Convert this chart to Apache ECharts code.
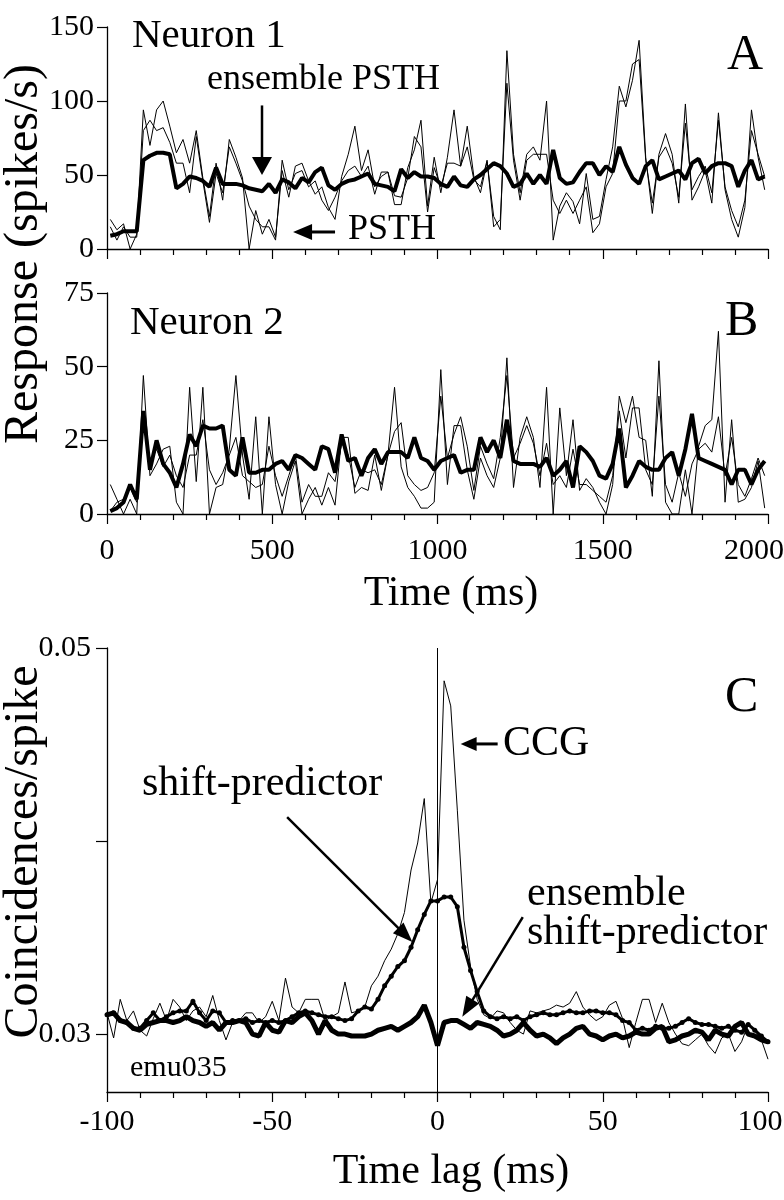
<!DOCTYPE html>
<html><head><meta charset="utf-8">
<script src="https://cdn.jsdelivr.net/npm/echarts@6/dist/echarts.min.js"></script>
<style>html,body{margin:0;padding:0;background:#fff}#c{width:784px;height:1200px}</style>
</head><body><div id="c"></div>
<script>
// ---------- Panels A & B : PSTHs, 20-ms bins (bin centres in ms) ----------
const binTimes = Array.from({length: 100}, (_, i) => 10 + 20 * i);
const n1Psth1 = [20,13,17,0,10,94,70,94,100,83, 65,74,58,80,48,22,58,33,74,62, 48,0,26,10,20,8,53,35,56,58, 46,37,42,28,20,49,64,83,53,67, 42,49,52,30,
  30,55,67,87,29,62,38,62,94,56, 83,49,38,59,22,13,134,64,38,64, 69,60,100,6,29,38,32,17,51,20, 22,47,69,110,96,114,141,62,24,64, 78,64,31,98,33,42,53,31,92,40, 20,8,28,94,62,40];
const n1Psth2 = [15,6,15,8,8,80,87,80,82,72, 58,58,38,76,46,18,51,38,69,58, 46,29,20,15,15,6,60,40,51,53, 42,46,33,26,35,46,53,56,49,56, 37,52,52,36,
  35,48,76,69,25,55,42,58,58,56, 69,47,42,60,15,20,112,60,33,60, 64,64,64,33,24,33,24,33,42,11, 17,42,51,100,100,125,128,60,31,62, 69,58,35,85,40,49,56,38,87,42, 26,15,33,80,64,49];
const n1Ensemble = [9,10,12,12,12,60,63,65,65,64, 41,44,49,48,46,42,55,44,44,44, 43,41,40,39,44,38,47,45,41,48, 45,52,55,43,40,44,46,47,49,51, 44,43,42,39,
  54,48,52,49,49,48,44,42,49,43, 42,47,50,54,58,56,51,42,44,51, 44,50,44,67,48,44,45,52,58,58, 50,56,52,69,57,48,44,56,60,47, 49,51,53,47,58,61,51,56,58,58, 56,42,53,60,47,49];

const n2Psth1 = [10,5,0,5,0,47,13,17,22,23, 4,0,43,11,43,0,9,10,22,47, 20,5,33,0,33,10,0,11,18,0, 5,9,3,9,3,26,26,7,9,8, 20,8,20,43,
  16,9,6,2,2,4,49,10,30,30, 15,5,19,13,9,19,53,9,26,33, 26,9,43,0,36,13,32,8,12,9, 4,0,10,40,31,40,26,25,6,52, 4,0,0,15,0,23,30,32,62,4, 32,4,5,9,18,2];
const n2Psth2 = [1,4,5,9,4,32,17,22,16,20, 13,9,20,20,32,15,10,14,20,26, 13,11,9,10,23,13,6,13,20,4, 10,6,6,14,11,24,20,9,15,14, 15,10,20,28,
  31,13,10,8,9,14,40,19,27,33, 23,8,23,17,12,26,47,19,24,30, 24,13,24,10,13,9,22,10,10,8, 6,4,13,35,19,36,36,15,10,40, 10,4,14,6,17,22,24,21,33,13, 26,10,6,12,19,13];
const n2Ensemble = [1,2,4,10,5,35,15,25,17,14, 9,17,27,23,30,29,29,30,15,13, 26,14,14,15,15,17,18,15,20,19, 17,15,23,22,14,27,18,19,13,19, 22,17,21,21,
  21,19,26,19,18,15,18,19,20,14, 15,15,26,21,25,19,32,18,17,17, 17,16,19,13,15,18,9,23,21,18, 13,12,17,29,9,13,18,16,15,15, 19,21,13,22,34,19,18,17,16,15, 10,15,15,10,15,18];

// ---------- Panel C : correlograms, 2-ms lags ----------
const lags = Array.from({length: 101}, (_, k) => -100 + 2 * k);
const ccg = [0.0311,0.0298,0.0318,0.0307,0.0312,0.0302,0.0299,0.0308,0.0316,0.0307,
  0.0318,0.0314,0.0307,0.0312,0.0314,0.0309,0.0320,0.0307,0.0297,0.0306,
  0.0307,0.0311,0.0311,0.0306,0.0309,0.0317,0.0307,0.0329,0.0314,0.0311,
  0.0318,0.0318,0.0318,0.0307,0.0309,0.0311,0.0327,0.0311,0.0312,0.0314,
  0.0325,0.0330,0.0338,0.0344,0.0352,0.0363,0.0385,0.0399,0.0422,0.0368,
  0.0380,0.0483,0.0470,0.0416,0.0359,0.0335,0.0318,0.0310,0.0308,0.0312,
  0.0311,0.0306,0.0302,0.0300,0.0312,0.0311,0.0312,0.0313,0.0315,0.0314,
  0.0316,0.0322,0.0314,0.0310,0.0307,0.0309,0.0315,0.0317,0.0308,0.0293,
  0.0306,0.0318,0.0318,0.0306,0.0316,0.0306,0.0300,0.0295,0.0294,0.0297,
  0.0300,0.0294,0.0290,0.0298,0.0300,0.0291,0.0296,0.0305,0.0302,0.0297,
  0.0287];
const shiftPredictor = [0.0310,0.0311,0.0307,0.0306,0.0303,0.0303,0.0307,0.0311,0.0307,0.0309,
  0.0311,0.0312,0.0312,0.0317,0.0311,0.0307,0.0312,0.0311,0.0306,0.0307,
  0.0307,0.0308,0.0306,0.0307,0.0306,0.0307,0.0306,0.0307,0.0309,0.0311,
  0.0312,0.0311,0.0310,0.0309,0.0309,0.0308,0.0307,0.0308,0.0312,0.0314,
  0.0313,0.0318,0.0325,0.0330,0.0335,0.0338,0.0345,0.0354,0.0362,0.0369,
  0.0369,0.0371,0.0371,0.0366,0.0345,0.0333,0.0322,0.0312,0.0309,0.0308,
  0.0309,0.0308,0.0309,0.0307,0.0309,0.0310,0.0311,0.0310,0.0310,0.0311,
  0.0312,0.0311,0.0311,0.0312,0.0312,0.0311,0.0311,0.0310,0.0307,0.0306,
  0.0302,0.0303,0.0302,0.0304,0.0303,0.0303,0.0304,0.0306,0.0308,0.0306,
  0.0305,0.0305,0.0304,0.0303,0.0304,0.0302,0.0301,0.0305,0.0302,0.0299,
  0.0296];
const ensembleShiftPredictor = [0.0310,0.0311,0.0307,0.0306,0.0303,0.0302,0.0305,0.0306,0.0307,0.0307,
  0.0306,0.0307,0.0309,0.0307,0.0306,0.0304,0.0306,0.0302,0.0306,0.0306,
  0.0307,0.0306,0.0300,0.0299,0.0306,0.0302,0.0301,0.0307,0.0306,0.0309,
  0.0311,0.0307,0.0300,0.0307,0.0302,0.0300,0.0300,0.0299,0.0299,0.0299,
  0.0300,0.0302,0.0303,0.0304,0.0302,0.0304,0.0306,0.0309,0.0315,0.0306,
  0.0294,0.0306,0.0307,0.0307,0.0305,0.0303,0.0306,0.0305,0.0304,0.0302,
  0.0299,0.0300,0.0302,0.0306,0.0302,0.0299,0.0300,0.0298,0.0295,0.0298,
  0.0300,0.0303,0.0304,0.0300,0.0299,0.0297,0.0299,0.0300,0.0298,0.0299,
  0.0301,0.0300,0.0300,0.0303,0.0304,0.0296,0.0297,0.0299,0.0300,0.0302,
  0.0301,0.0297,0.0302,0.0300,0.0299,0.0304,0.0306,0.0300,0.0299,0.0297,
  0.0296];

// annotation arrows (data coordinates: tail -> tip)
const arrowDefs = [
  {grid: 0, from: [469, 97], to: [469, 50], head: 18, hw: 20, w: 2.5},
  {grid: 0, from: [690, 11.5], to: [563, 11.5], head: 19, hw: 16, w: 3},
  {grid: 2, from: [-45.5, 0.04124], to: [-7.6, 0.03477], head: 20, hw: 15, w: 2.5},
  {grid: 2, from: [25.8, 0.03606], to: [7.5, 0.0309], head: 20, hw: 15, w: 2.5},
  {grid: 2, from: [18.2, 0.04503], to: [7.0, 0.04503], head: 16, hw: 14, w: 3}
];

const FONT = '"Liberation Serif", "Times New Roman", serif';
const pairs = (xs, ys) => xs.map((x, i) => [x, ys[i]]);
const LBL = {color: '#000', fontFamily: FONT, fontSize: 30};

function xAx(grid, min, max, interval, showLabel, margin, shiftMax) {
  return {
    gridIndex: grid, type: 'value', min, max, interval,
    axisLine: {show: true, onZero: false, lineStyle: {color: '#000', width: 1.3}},
    axisTick: {show: true, inside: false, length: 10, lineStyle: {color: '#000', width: 1.2}},
    minorTick: {show: true, splitNumber: 5, length: 6, lineStyle: {color: '#000', width: 1.2}},
    splitLine: {show: false}, minorSplitLine: {show: false},
    axisLabel: Object.assign({show: showLabel, margin,
      formatter: v => (v === max ? '{e|' + v + '}' : String(v)),
      rich: {e: Object.assign({padding: [0, shiftMax, 0, 0]}, LBL)}}, LBL)
  };
}
function yAx(grid, min, max, interval, extra) {
  const a = {
    gridIndex: grid, type: 'value', min, max, interval,
    axisLine: {show: true, onZero: false, lineStyle: {color: '#000', width: 1.3}},
    axisTick: {show: true, inside: false, length: 10, lineStyle: {color: '#000', width: 1.2}},
    splitLine: {show: false},
    axisLabel: Object.assign({show: true, margin: 13, verticalAlign: 'middle', padding: [0, 0, 16, 0]}, LBL)
  };
  return Object.assign(a, extra || {});
}
const thin = (xi, yi, data) => ({type: 'line', xAxisIndex: xi, yAxisIndex: yi, data, symbol: 'none',
  lineStyle: {color: '#000', width: 1}, silent: true});
const thick = (xi, yi, data, w) => ({type: 'line', xAxisIndex: xi, yAxisIndex: yi, data, symbol: 'none',
  lineStyle: {color: '#000', width: w}, silent: true});

function txt(id, text, x, y, size, align, rot) {
  return {type: 'text', id, x, y, rotation: rot || 0, silent: true,
    style: {text, font: size + 'px ' + FONT, fill: '#000', align: align || 'left', verticalAlign: 'middle'}};
}

const chart = echarts.init(document.getElementById('c'), null, {renderer: 'canvas'});
chart.setOption({
  animation: false,
  backgroundColor: '#fff',
  grid: [
    {left: 107, top: 27, width: 661, height: 222, outerBoundsMode: 'none', containLabel: false},
    {left: 107, top: 293, width: 661, height: 221, outerBoundsMode: 'none', containLabel: false},
    {left: 107, top: 648, width: 661, height: 444, outerBoundsMode: 'none', containLabel: false}
  ],
  xAxis: [
    xAx(0, 0, 2000, 500, false, 22, 28),
    xAx(1, 0, 2000, 500, true, 22, 28),
    xAx(2, -100, 100, 50, true, 15, 16)
  ],
  yAxis: [
    yAx(0, 0, 150, 50),
    yAx(1, 0, 75, 25),
    yAx(2, 0.027, 0.05, 0.01, {
      axisTick: {show: true, inside: false, length: 11, customValues: [0.03, 0.04, 0.05], lineStyle: {color: '#000', width: 1.2}},
      axisLabel: Object.assign({show: true, margin: 16, verticalAlign: 'middle', padding: [0, 0, 16, 0],
        customValues: [0.03, 0.05], formatter: v => v.toFixed(2)}, LBL)
    })
  ],
  series: [
    thin(0, 0, pairs(binTimes, n1Psth1)),
    thin(0, 0, pairs(binTimes, n1Psth2)),
    thick(0, 0, pairs(binTimes, n1Ensemble), 4),
    thin(1, 1, pairs(binTimes, n2Psth1)),
    thin(1, 1, pairs(binTimes, n2Psth2)),
    thick(1, 1, pairs(binTimes, n2Ensemble), 4),
    Object.assign(thin(2, 2, pairs(lags, ccg)), {
      markLine: {silent: true, symbol: 'none', label: {show: false},
        lineStyle: {color: '#000', width: 1, type: 'solid'}, data: [{xAxis: 0}]}
    }),
    {type: 'line', xAxisIndex: 2, yAxisIndex: 2, data: pairs(lags, shiftPredictor),
      symbol: 'circle', symbolSize: 5, showSymbol: true, itemStyle: {color: '#000'},
      lineStyle: {color: '#000', width: 3}, silent: true},
    thick(2, 2, pairs(lags, ensembleShiftPredictor), 5)
  ],
  graphic: [
    txt('yl1', 'Response (spikes/s)', 24, 254, 48, 'center', Math.PI / 2),
    txt('yl2', 'Coincidences/spike', 24, 852, 48, 'center', Math.PI / 2),
    txt('n1', 'Neuron 1', 132, 36, 41),
    txt('ens', 'ensemble PSTH', 207, 80, 36),
    txt('psth', 'PSTH', 348, 230, 36),
    txt('A', 'A', 727, 56, 50),
    txt('n2', 'Neuron 2', 130, 323, 41),
    txt('B', 'B', 725, 322, 50),
    txt('xl1', 'Time (ms)', 451, 594, 42, 'center'),
    txt('C', 'C', 725, 698, 50),
    txt('sp', 'shift-predictor', 142, 784, 42),
    txt('ccg', 'CCG', 503, 744, 42),
    txt('esp1', 'ensemble', 527, 894, 42),
    txt('esp2', 'shift-predictor', 527, 933, 42),
    txt('emu', 'emu035', 130, 1068, 30),
    txt('xl2', 'Time lag (ms)', 451, 1172, 42, 'center')
  ]
});

// arrows, positioned through the chart's own scales
const arrowEls = [];
arrowDefs.forEach((a, i) => {
  const p0 = chart.convertToPixel({gridIndex: a.grid}, a.from);
  const p1 = chart.convertToPixel({gridIndex: a.grid}, a.to);
  const dx = p1[0] - p0[0], dy = p1[1] - p0[1];
  const len = Math.hypot(dx, dy);
  const ux = dx / len, uy = dy / len;
  const bx = p1[0] - ux * a.head, by = p1[1] - uy * a.head;
  const nx = -uy * a.hw / 2, ny = ux * a.hw / 2;
  arrowEls.push({type: 'line', id: 'ash' + i, silent: true,
    shape: {x1: p0[0], y1: p0[1], x2: bx + ux * 2, y2: by + uy * 2},
    style: {stroke: '#000', lineWidth: a.w}});
  arrowEls.push({type: 'polygon', id: 'ahd' + i, silent: true,
    shape: {points: [[p1[0], p1[1]], [bx + nx, by + ny], [bx - nx, by - ny]]},
    style: {fill: '#000'}});
});
chart.setOption({graphic: arrowEls});
</script>
</body></html>
